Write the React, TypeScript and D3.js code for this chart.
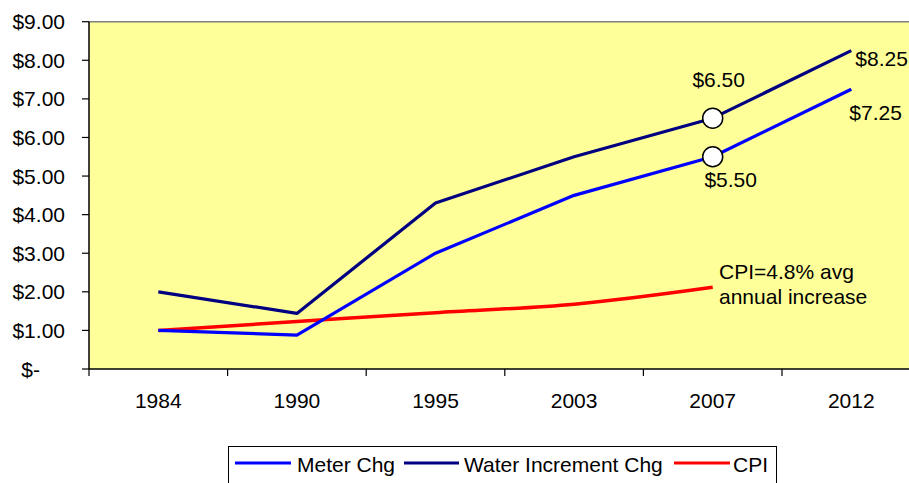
import React from "react";
import * as d3 from "d3";

const categories = ["1984", "1990", "1995", "2003", "2007", "2012"];
const meterChg = [1.0, 0.88, 3.0, 4.5, 5.5, 7.25];
const waterIncrementChg = [2.0, 1.44, 4.3, 5.5, 6.5, 8.25];
const cpi = [1.0, 1.23, 1.46, 1.68, 2.12];
const yTicks = [0, 1, 2, 3, 4, 5, 6, 7, 8, 9];
const seriesNames = ["Meter Chg", "Water Increment Chg", "CPI"];

const W = 909;
const H = 483;
const FONT = "'Liberation Sans', Arial, sans-serif";

export default function App() {
  const plotLeft = 89;
  const plotRight = 920.6;
  const plotTop = 21.7;
  const plotBottom = 369;

  const x = d3.scaleBand<string>().domain(categories).range([plotLeft, plotRight]).padding(0);
  const y = d3.scaleLinear().domain([0, 9]).range([plotBottom, plotTop]);
  const cx = (c: string) => (x(c) as number) + x.bandwidth() / 2;

  const line = d3
    .line<number>()
    .x((_, i) => cx(categories[i]))
    .y((d) => y(d));
  const smooth = d3
    .line<number>()
    .x((_, i) => cx(categories[i]))
    .y((d) => y(d))
    .curve(d3.curveCatmullRom.alpha(0.5));

  const fmt = (v: number) => (v === 0 ? "$-" : "$" + v.toFixed(2));
  const i07 = categories.indexOf("2007");
  const i12 = categories.indexOf("2012");

  const tickEdges = categories.map((c) => x(c) as number).concat([plotRight]);

  return (
    <svg
      width={W}
      height={H}
      style={{ position: "absolute", left: 0, top: 0, background: "#fff" }}
      fontFamily={FONT}
      fontSize={21}
    >
      <rect x={plotLeft} y={plotTop} width={plotRight - plotLeft} height={plotBottom - plotTop} fill="#FFFF99" />
      <line x1={plotLeft} x2={plotRight} y1={plotTop} y2={plotTop} stroke="#808080" strokeWidth={1.5} />
      {/* y axis */}
      <line x1={plotLeft} x2={plotLeft} y1={plotTop} y2={plotBottom} stroke="#000" strokeWidth={1.5} />
      {yTicks.map((t) => (
        <g key={t}>
          <line x1={plotLeft - 7} x2={plotLeft} y1={y(t)} y2={y(t)} stroke="#000" strokeWidth={1.2} />
          <text x={t === 0 ? 40 : 65} y={y(t)} dy="0.36em" textAnchor="end" fill="#000">
            {fmt(t)}
          </text>
        </g>
      ))}
      {/* x axis */}
      <line x1={plotLeft} x2={plotRight} y1={plotBottom} y2={plotBottom} stroke="#000" strokeWidth={1.5} />
      {tickEdges.map((e, i) => (
        <line key={i} x1={e} x2={e} y1={plotBottom} y2={plotBottom + 7} stroke="#000" strokeWidth={1.2} />
      ))}
      {categories.map((c) => (
        <text key={c} x={cx(c)} y={408} textAnchor="middle" fill="#000">
          {c}
        </text>
      ))}

      {/* series */}
      <path d={smooth(cpi) || ""} fill="none" stroke="#FF0000" strokeWidth={3.5} strokeLinejoin="round" />
      <path d={line(meterChg) || ""} fill="none" stroke="#0000FF" strokeWidth={3.2} strokeLinejoin="round" />
      <path d={line(waterIncrementChg) || ""} fill="none" stroke="#000080" strokeWidth={3.2} strokeLinejoin="round" />

      {/* markers at 2007 */}
      <circle cx={cx("2007")} cy={y(waterIncrementChg[i07])} r={10} fill="#fff" stroke="#000" strokeWidth={1.5} />
      <circle cx={cx("2007")} cy={y(meterChg[i07])} r={10} fill="#fff" stroke="#000" strokeWidth={1.5} />

      {/* data labels */}
      <text x={cx("2007") + 6} y={y(waterIncrementChg[i07]) - 31} textAnchor="middle" fill="#000">
        {fmt(waterIncrementChg[i07])}
      </text>
      <text x={cx("2007") + 18} y={y(meterChg[i07]) + 30} textAnchor="middle" fill="#000">
        {fmt(meterChg[i07])}
      </text>
      <text x={cx("2012") + 4} y={y(waterIncrementChg[i12]) + 15} fill="#000">
        {fmt(waterIncrementChg[i12])}
      </text>
      <text x={cx("2012") - 2} y={y(meterChg[i12]) + 31} fill="#000">
        {fmt(meterChg[i12])}
      </text>
      <text x={719} y={279.3} fill="#000">CPI=4.8% avg</text>
      <text x={719} y={304} fill="#000">annual increase</text>

      {/* legend */}
      <rect x={228.5} y={446.5} width={548} height={40} fill="#fff" stroke="#000" strokeWidth={1} />
      {[
        { name: seriesNames[0], color: "#0000FF", x0: 235, x1: 291, tx: 297 },
        { name: seriesNames[1], color: "#000080", x0: 404, x1: 459, tx: 464 },
        { name: seriesNames[2], color: "#FF0000", x0: 674, x1: 730, tx: 733 },
      ].map((l) => (
        <g key={l.name}>
          <line x1={l.x0} x2={l.x1} y1={463} y2={463} stroke={l.color} strokeWidth={3} />
          <text x={l.tx} y={471.5} fill="#000">
            {l.name}
          </text>
        </g>
      ))}
    </svg>
  );
}
